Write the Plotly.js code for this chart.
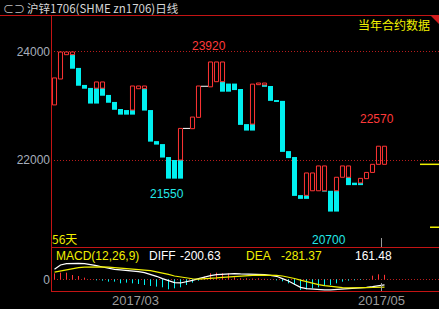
<!DOCTYPE html>
<html>
<head>
<meta charset="utf-8">
<script src="https://cdn.plot.ly/plotly-3.0.1.min.js"></script>
<style>
html,body{margin:0;padding:0;background:#000;}
#chart{width:439px;height:309px;}
</style>
</head>
<body>
<div id="chart"></div>
<script>
// ---- data ----
const dates = [
  '2017-02-09','2017-02-10','2017-02-13','2017-02-14','2017-02-15','2017-02-16','2017-02-17',
  '2017-02-20','2017-02-21','2017-02-22','2017-02-23','2017-02-24','2017-02-27','2017-02-28',
  '2017-03-01','2017-03-02','2017-03-03','2017-03-06','2017-03-07','2017-03-08','2017-03-09','2017-03-10',
  '2017-03-13','2017-03-14','2017-03-15','2017-03-16','2017-03-17','2017-03-20','2017-03-21','2017-03-22',
  '2017-03-23','2017-03-24','2017-03-27','2017-03-28','2017-03-29','2017-03-30','2017-03-31',
  '2017-04-05','2017-04-06','2017-04-07','2017-04-10','2017-04-11','2017-04-12','2017-04-13','2017-04-14',
  '2017-04-17','2017-04-18','2017-04-19','2017-04-20','2017-04-21','2017-04-24','2017-04-25','2017-04-26',
  '2017-04-27','2017-04-28','2017-05-02'
];
const N = null;
// rising (hollow red) bodies
const upTop = [23520,24000,24000,24000,N,N,N,23445,23445,N,N,N,N,23370,
  23370,23370,N,N,N,N,N,22585,N,22795,23370,N,23815,23815,23815,N,N,N,N,23405,23425,23425,N,
  N,N,N,N,N,21760,21760,21890,21890,N,21680,21890,21890,N,21660,21770,21920,22255,22255];
const upBottom = [23020,23500,23950,23950,N,N,N,23330,23330,N,N,N,N,22925,
  23320,23320,N,N,N,N,N,22000,N,22580,22790,N,23355,23450,23450,N,N,N,N,22665,23395,23390,N,
  N,N,N,N,N,21345,21430,21430,21430,N,21430,21680,21680,N,21575,21655,21770,21920,21920];
// falling (filled cyan) bodies
const downTop = [N,N,N,23950,23705,23390,23335,23330,23330,23205,23075,22945,22925,22925,
  N,23320,22925,22350,22295,22055,22000,22000,N,N,N,N,N,N,23450,23415,23415,23315,22665,22665,N,23390,23370,
  23110,23095,22165,22055,21350,21345,N,N,21430,21430,21430,N,21680,21580,21575,N,N,N,N];
const downBottom = [N,N,N,23690,23375,23320,23045,23045,23190,23060,22930,22840,22840,22840,
  N,22915,22340,22285,22045,21655,21655,21655,N,N,N,N,N,N,23265,23265,23295,22650,22545,22545,N,23355,23095,
  23075,22150,22035,21335,21280,21280,N,N,21415,21045,21045,N,21535,21535,21535,N,N,N,N];
// open == close days
const dojiPrice = [N,N,N,N,N,N,N,N,N,N,N,N,N,N,
  N,N,N,N,N,N,N,N,22585,N,N,23365,N,N,N,N,N,N,N,N,N,N,N,
  N,N,N,N,N,N,N,N,N,N,N,N,N,N,N,N,N,N,N];
// MACD(12,26,9)
const diff = [360,516,564,576,576,564,540,492,444,396,360,336,324,312,
  276,240,180,108,24,-60,-120,-132,-96,-36,24,84,132,168,180,204,204,192,192,192,180,168,144,
  108,24,-60,-180,-288,-336,-360,-384,-384,-384,-372,-360,-348,-336,-324,-288,-264,-228,-200.63];
const dea = [260,300,350,390,420,440,450,450,445,435,420,405,390,375,
  360,340,310,270,230,175,120,80,40,20,10,15,30,50,70,90,110,125,135,145,150,155,155,
  145,120,80,30,-30,-90,-140,-190,-230,-260,-285,-300,-310,-315,-310,-300,-295,-290,-281.37];
const macdHist = [216,240,240,155,120,60,10,-36,-48,-84,-84,-144,-120,-144,
  -170,-205,-240,-263,-288,-360,-324,-288,-205,-120,-48,97,216,240,216,216,72,36,36,25,36,18,-10,
  -36,-72,-144,-205,-385,-360,-324,-288,-240,-205,-144,-84,-48,-36,-25,-10,130,180,161.48];
const priceTicks = [22000, 24000];
const monthLabels = {'2017-03':'2017/03','2017-05':'2017/05'};
const extremes = [
  {value:23920, idx:26, color:'#ff3a3a', above:true},
  {value:22570, idx:54, color:'#ff3a3a', above:true},
  {value:21550, idx:19, color:'#22e8e8', above:false},
  {value:20700, idx:46, color:'#22e8e8', above:false}
];
const lastPrice = 21920, refPrice = 20755;

// ---- drawing ----
const idx = dates.map((d,i)=>i);
const RED = '#ff3434', CYAN = '#00f0f0', FRAME = '#c41414', GRID = '#b81c1c';
const L = 51, T = 15, W = 388, H = 276;
const px = x => (x - L) / W;
const py = y => (T + H - y) / H;

const upH = upTop.map((t,i)=> t==null ? null : t - upBottom[i]);
const downH = downTop.map((t,i)=> t==null ? null : t - downBottom[i]);

const traces = [
  {type:'bar', x:idx, base:downBottom, y:downH, width:0.83,
   marker:{color:CYAN, line:{width:0}}, xaxis:'x', yaxis:'y', hoverinfo:'skip'},
  {type:'bar', x:idx, base:upBottom, y:upH, width:0.68,
   marker:{color:'rgba(0,0,0,0)', line:{color:RED, width:1}}, xaxis:'x', yaxis:'y', hoverinfo:'skip'},
  {type:'scatter', mode:'markers', x:idx, y:dojiPrice,
   marker:{symbol:'line-ew', size:5, line:{color:'#ffffff', width:1}}, xaxis:'x', yaxis:'y'},
  {type:'bar', x:idx, y:macdHist, width:0.17,
   marker:{color:macdHist.map(v=> v>=0 ? RED : CYAN), line:{width:0}}, xaxis:'x', yaxis:'y2'},
  {type:'scatter', mode:'lines', x:idx, y:diff, line:{color:'#ffffff', width:1.2}, xaxis:'x', yaxis:'y2'},
  {type:'scatter', mode:'lines', x:idx, y:dea, line:{color:'#f0f000', width:1.2}, xaxis:'x', yaxis:'y2'}
];

// month ticks
const tickvals = [], ticktext = [];
dates.forEach((d,i)=>{
  const m = d.slice(0,7);
  if (i>0 && dates[i-1].slice(0,7)!==m && monthLabels[m]) { tickvals.push(i-0.5); ticktext.push(monthLabels[m]); }
});
const lastTick = tickvals[tickvals.length-1];

const numFont = 'Liberation Sans, Arial, sans-serif';
const cjkFont = 'Noto Sans CJK SC, sans-serif';
const ann = (x,y,text,color,size,family,xanchor) => ({xref:'paper', yref:'paper', x:px(x), y:py(y),
  text:text, showarrow:false, xanchor:xanchor||'left', yanchor:'middle',
  font:{color:color, size:size||12, family:family||numFont}, borderpad:0});

const annotations = [
  ann(2,8,'⊂⊃','#bfbfbf',11,cjkFont),
  ann(26,8,'沪锌1706(SHME zn1706)日线','#d6d6d6',11.5,cjkFont),
  ann(357,24,'当年合约数据','#f0f000',12,cjkFont),
  ann(51,238,dates.length+'天','#f0f000',12,cjkFont),
  ann(55,256,'MACD(12,26,9)','#f0f000',12),
  ann(148,256,'DIFF','#ffffff',12),
  ann(179,256,diff[diff.length-1].toFixed(2),'#ffffff',12),
  ann(245,256,'DEA','#f0f000',12),
  ann(280,256,dea[dea.length-1].toFixed(2),'#f0f000',12),
  ann(354,256,macdHist[macdHist.length-1].toFixed(2),'#ffffff',12)
];
extremes.forEach(e=>annotations.push({xref:'x', yref:'y', x:e.idx, y:e.value, text:String(e.value),
  showarrow:false, xanchor:'center', yanchor:e.above?'bottom':'top', xshift:-2, yshift:e.above?2:-2,
  font:{color:e.color, size:12, family:numFont}, borderpad:0}));

const hline = (x0,x1,y,color) => ({type:'line', xref:'paper', yref:'paper', x0:px(x0), x1:px(x1), y0:py(y), y1:py(y),
  line:{color:color||FRAME, width:1}});
const shapes = [
  hline(0,439,15.5), hline(51,439,247.5), hline(51,439,291.5),
  {type:'line', xref:'paper', yref:'paper', x0:px(51.5), x1:px(51.5), y0:py(15), y1:py(291), line:{color:FRAME, width:1}},
  {type:'path', xref:'paper', yref:'paper',
   path:`M ${px(430)} ${py(15)} L ${px(439)} ${py(15)} L ${px(439)} ${py(24)} Z`, fillcolor:'#d01c1c', line:{width:0}},
  {type:'line', xref:'x', yref:'paper', x0:lastTick, x1:lastTick, y0:py(247), y1:py(238), line:{color:'#9a9a9a', width:1}},
  {type:'line', xref:'x', yref:'paper', x0:lastTick, x1:lastTick, y0:py(291), y1:py(283), line:{color:'#9a9a9a', width:1}},
  {type:'line', xref:'paper', yref:'y', x0:px(420), x1:px(439), y0:lastPrice, y1:lastPrice, line:{color:'#f0f000', width:1.5}},
  {type:'line', xref:'paper', yref:'y', x0:px(430), x1:px(439), y0:refPrice, y1:refPrice, line:{color:'#f0f000', width:1.5}}
];

const axisCommon = {showline:false, zeroline:false, ticks:'', fixedrange:true};
const layout = {
  width:439, height:309, margin:{l:L, r:0, t:T, b:18, pad:0},
  paper_bgcolor:'#000', plot_bgcolor:'#000', showlegend:false, barmode:'overlay',
  xaxis:Object.assign({}, axisCommon, {range:[-0.5833, 64.0833], anchor:'y2', showgrid:false,
    tickvals:tickvals, ticktext:ticktext, tickfont:{family:numFont, size:13, color:'#9c9c9c'}}),
  yaxis:Object.assign({}, axisCommon, {domain:[44/276,1], range:[20389,24685], tickvals:priceTicks,
    ticktext:priceTicks.map(String),
    showgrid:true, gridcolor:GRID, griddash:'1px,2px', gridwidth:1,
    tickfont:{family:numFont, size:12, color:'#a6aebb'}}),
  yaxis2:Object.assign({}, axisCommon, {domain:[0,44/276], range:[-421,1163], tickvals:[0], ticktext:['0'],
    showgrid:true, gridcolor:GRID, griddash:'1px,2px', gridwidth:1,
    tickfont:{family:numFont, size:12, color:'#a6aebb'}}),
  annotations:annotations, shapes:shapes
};
Plotly.newPlot('chart', traces, layout, {staticPlot:true, displayModeBar:false});
</script>
</body>
</html>
